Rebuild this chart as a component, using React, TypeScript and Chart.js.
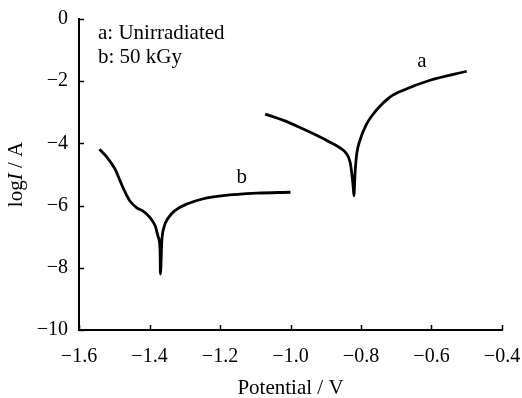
import React, { useEffect, useRef } from "react";
import { Chart, registerables } from "chart.js";

Chart.register(...registerables);

const xTicks = [-1.6, -1.4, -1.2, -1.0, -0.8, -0.6, -0.4];
const yTicks = [0, -2, -4, -6, -8, -10];

const seriesA_x = [-1.072, -1.02, -0.973, -0.926, -0.888, -0.86, -0.841, -0.831, -0.826, -0.822, -0.82, -0.817, -0.812, -0.803, -0.784, -0.757, -0.718, -0.68, -0.604, -0.5];
const seriesA_y = [-3.06, -3.26, -3.49, -3.74, -3.96, -4.14, -4.33, -4.6, -4.98, -5.41, -5.68, -4.98, -4.33, -3.9, -3.37, -2.94, -2.51, -2.29, -1.97, -1.68];

const seriesB_x = [-1.542, -1.521, -1.498, -1.484, -1.469, -1.455, -1.436, -1.418, -1.399, -1.384, -1.375, -1.37, -1.369, -1.365, -1.359, -1.347, -1.328, -1.294, -1.247, -1.191, -1.096, -1.0];
const seriesB_y = [-4.19, -4.44, -4.82, -5.19, -5.57, -5.86, -6.07, -6.18, -6.38, -6.65, -7.02, -7.45, -8.2, -7.13, -6.7, -6.4, -6.16, -5.95, -5.78, -5.68, -5.6, -5.57];

const legendLines = ["a: Unirradiated", "b: 50 kGy"];
const curveLabels = [
  { text: "a", x: -0.627, y: -1.55 },
  { text: "b", x: -1.138, y: -5.26 },
];

const FONT = "'Liberation Serif', 'Times New Roman', serif";
const FS_TICK = 20;
const FS_TEXT = 21;

const decorPlugin = {
  id: "decor",
  afterDraw(chart: any) {
    const { ctx, chartArea, scales } = chart;
    const xs = scales.x;
    const ys = scales.y;
    ctx.save();
    ctx.strokeStyle = "#000";
    ctx.lineWidth = 1.5;
    xTicks.forEach((v) => {
      const px = Math.round(xs.getPixelForValue(v)) + 0.5;
      ctx.beginPath();
      ctx.moveTo(px, chartArea.bottom);
      ctx.lineTo(px, chartArea.bottom - 5);
      ctx.stroke();
    });
    yTicks.forEach((v) => {
      const py = Math.round(ys.getPixelForValue(v)) + 0.5;
      ctx.beginPath();
      ctx.moveTo(chartArea.left, py);
      ctx.lineTo(chartArea.left + 5, py);
      ctx.stroke();
    });
    ctx.fillStyle = "#000";
    ctx.font = `${FS_TEXT}px ${FONT}`;
    ctx.textBaseline = "alphabetic";
    ctx.textAlign = "left";
    const lx = xs.getPixelForValue(-1.546);
    ctx.fillText(legendLines[0], lx, ys.getPixelForValue(-0.645));
    ctx.fillText(legendLines[1], lx, ys.getPixelForValue(-1.4));
    ctx.textAlign = "center";
    curveLabels.forEach((l) => {
      ctx.fillText(l.text, xs.getPixelForValue(l.x), ys.getPixelForValue(l.y));
    });
    const cy = (chartArea.top + chartArea.bottom) / 2;
    ctx.translate(22, cy);
    ctx.rotate(-Math.PI / 2);
    const parts = [
      { t: "log", f: `${FS_TEXT}px ${FONT}` },
      { t: "I", f: `italic ${FS_TEXT}px ${FONT}` },
      { t: " / A", f: `${FS_TEXT}px ${FONT}` },
    ];
    let total = 0;
    parts.forEach((p) => {
      ctx.font = p.f;
      total += ctx.measureText(p.t).width;
    });
    let x0 = -total / 2;
    ctx.textAlign = "left";
    parts.forEach((p) => {
      ctx.font = p.f;
      ctx.fillText(p.t, x0, 0);
      x0 += ctx.measureText(p.t).width;
    });
    ctx.restore();
  },
};

export default function App() {
  const ref = useRef<HTMLCanvasElement | null>(null);
  useEffect(() => {
    if (!ref.current) return;
    const lineDs = (label: string, xs: number[], ys: number[]) => ({
      label,
      data: xs.map((x, i) => ({ x, y: ys[i] })),
      borderColor: "#000",
      borderWidth: 2.8,
      pointRadius: 0,
      cubicInterpolationMode: "monotone",
      fill: false,
    });
    const chart = new Chart(ref.current, {
      type: "line",
      data: {
        datasets: [lineDs("a", seriesA_x, seriesA_y), lineDs("b", seriesB_x, seriesB_y)],
      },
      options: {
        animation: false,
        responsive: false,
        events: [],
        layout: { padding: { left: 0, right: 20, top: 19, bottom: 0 } },
        plugins: { legend: { display: false }, tooltip: { enabled: false } },
        scales: {
          x: {
            type: "linear",
            min: -1.6,
            max: -0.4,
            afterBuildTicks: (s: any) => {
              s.ticks = xTicks.map((v) => ({ value: v }));
            },
            afterFit: (s: any) => {
              s.height = 68;
              s.paddingLeft = 0;
              s.paddingRight = 0;
            },
            grid: { display: false, drawTicks: false },
            border: { display: true, color: "#000", width: 2 },
            ticks: {
              color: "#000",
              padding: 15,
              font: { family: FONT, size: FS_TICK },
              callback: (v: any) => {
                const n = Number(v);
                const s = Math.abs(n).toFixed(1);
                return n < 0 ? "\u2212" + s : s;
              },
            },
            title: {
              display: true,
              text: "Potential / V",
              color: "#000",
              font: { family: FONT, size: FS_TEXT },
              padding: { top: 0, bottom: -3 },
            },
          },
          y: {
            type: "linear",
            min: -10,
            max: 0,
            afterBuildTicks: (s: any) => {
              s.ticks = yTicks.map((v) => ({ value: v }));
            },
            afterFit: (s: any) => {
              s.width = 79;
              s.paddingTop = 0;
              s.paddingBottom = 0;
            },
            grid: { display: false, drawTicks: false },
            border: { display: true, color: "#000", width: 2 },
            ticks: {
              color: "#000",
              padding: 11,
              font: { family: FONT, size: FS_TICK },
              callback: (v: any) => {
                const n = Number(v);
                return n < 0 ? "\u2212" + Math.abs(n) : String(n);
              },
            },
          },
        },
      },
      plugins: [decorPlugin],
    } as any);
    return () => chart.destroy();
  }, []);
  return (
    <div style={{ position: "fixed", left: 0, top: 0, width: 522, height: 398, background: "#fff" }}>
      <canvas ref={ref} width={522} height={398} style={{ display: "block" }} />
    </div>
  );
}
